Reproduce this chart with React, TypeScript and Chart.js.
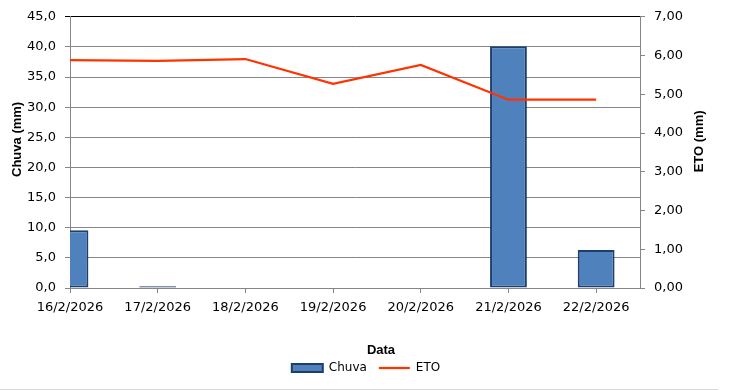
import React, { useEffect, useRef } from "react";
import { Chart, registerables } from "chart.js";

Chart.register(...registerables);

const dates = ["16/2/2026", "17/2/2026", "18/2/2026", "19/2/2026", "20/2/2026", "21/2/2026", "22/2/2026"];
const chuva = [9.6, 0.3, 0, 0, 0, 40.1, 6.3];
const eto = [5.88, 5.86, 5.91, 5.27, 5.76, 4.86, 4.86];
const leftTicks = [0, 5, 10, 15, 20, 25, 30, 35, 40, 45];
const rightTicks = [0, 1, 2, 3, 4, 5, 6, 7];

const GRAY = "#868686";
const TICK_FONT = { family: "'DejaVu Sans', Verdana, sans-serif", size: 13 };
const TITLE_FONT = "bold 13px 'Liberation Sans', Arial, sans-serif";

const titlesPlugin = {
  id: "titlesPlugin",
  afterDraw(chart: any) {
    const { ctx, chartArea, width } = chart;
    const cy = (chartArea.top + chartArea.bottom) / 2 - 13;
    ctx.save();
    ctx.font = TITLE_FONT;
    ctx.fillStyle = "#000";
    ctx.textAlign = "center";
    ctx.textBaseline = "middle";
    ctx.save();
    ctx.translate(17, cy);
    ctx.rotate(-Math.PI / 2);
    ctx.fillText("Chuva (mm)", 0, 0);
    ctx.restore();
    ctx.save();
    ctx.translate(chartArea.right + 59, cy + 2);
    ctx.rotate(-Math.PI / 2);
    ctx.fillText("ETO (mm)", 0, 0);
    ctx.restore();
    ctx.fillText("Data", (chartArea.left + chartArea.right) / 2 + 26, chartArea.bottom + 62);
    ctx.strokeStyle = "#D9D9D9";
    ctx.lineWidth = 1;
    ctx.beginPath();
    ctx.moveTo(0, 389.5);
    ctx.lineTo(width - 14, 389.5);
    ctx.stroke();
    ctx.restore();
  },
};

export default function App() {
  const ref = useRef<HTMLCanvasElement>(null);
  useEffect(() => {
    if (!ref.current) return;
    const chart = new Chart(ref.current, {
      type: "bar",
      data: {
        datasets: [
          {
            type: "bar",
            label: "Chuva",
            data: chuva.map((v, i) => ({ x: i, y: v })),
            backgroundColor: "#4F81BD",
            borderColor: "#1C3F6E",
            borderWidth: 2,
            borderSkipped: false,
            categoryPercentage: 1,
            barPercentage: 0.42,
            yAxisID: "y",
            order: 1,
            pointStyle: "rect",
          } as any,
          {
            type: "line",
            label: "ETO",
            data: eto.map((v, i) => ({ x: i, y: v })),
            borderColor: "#FF3300",
            backgroundColor: "#FF3300",
            borderWidth: 2.25,
            pointRadius: 0,
            tension: 0,
            yAxisID: "y1",
            order: 0,
            pointStyle: "line",
          } as any,
        ],
      },
      options: {
        animation: false,
        responsive: false,
        maintainAspectRatio: false,
        layout: { padding: { top: 16, bottom: 6, left: 0, right: 0 } },
        plugins: {
          legend: {
            position: "bottom",
            labels: {
              usePointStyle: true,
              pointStyleWidth: 31,
              boxHeight: 8,
              padding: 12,
              color: "#000",
              font: { family: "'DejaVu Sans', Verdana, sans-serif", size: 12 },
              sort: (a: any, b: any) => a.datasetIndex - b.datasetIndex,
            },
          },
          tooltip: { enabled: false },
        },
        scales: {
          x: {
            type: "linear",
            min: 0,
            max: 6.5,
            offset: false,
            ticks: {
              stepSize: 1,
              includeBounds: false,
              autoSkip: false,
              maxRotation: 0,
              padding: 7,
              color: "#000",
              font: TICK_FONT,
              callback: (v: any) => (Number.isInteger(v) && dates[v] !== undefined ? dates[v] : ""),
            },
            afterBuildTicks: (s: any) => {
              s.ticks = dates.map((_, i) => ({ value: i }));
            },
            grid: { display: true, offset: false, drawOnChartArea: false, tickLength: 5, color: GRAY },
            border: { display: true, color: GRAY },
            afterFit: (s: any) => {
              s.height = 62;
            },
          },
          y: {
            type: "linear",
            position: "left",
            min: 0,
            max: 45,
            afterBuildTicks: (s: any) => {
              s.ticks = leftTicks.map((v) => ({ value: v }));
            },
            ticks: {
              padding: 9,
              color: "#000",
              font: TICK_FONT,
              callback: (v: any) => Number(v).toFixed(1).replace(".", ","),
            },
            grid: {
              tickLength: 5,
              color: (c: any) => (c.tick && c.tick.value === 45 ? "#000" : GRAY),
            },
            border: { display: true, color: GRAY },
            afterFit: (s: any) => {
              s.width = 70;
            },
          },
          y1: {
            type: "linear",
            position: "right",
            min: 0,
            max: 7,
            afterBuildTicks: (s: any) => {
              s.ticks = rightTicks.map((v) => ({ value: v }));
            },
            ticks: {
              padding: 9,
              color: "#000",
              font: TICK_FONT,
              callback: (v: any) => Number(v).toFixed(2).replace(".", ","),
            },
            grid: { drawOnChartArea: false, tickLength: 5, color: GRAY },
            border: { display: true, color: GRAY },
            afterFit: (s: any) => {
              s.width = 92;
            },
          },
        },
      } as any,
      plugins: [titlesPlugin],
    });
    return () => chart.destroy();
  }, []);
  return (
    <div style={{ position: "absolute", left: 0, top: 0, width: 732, height: 390, background: "#fff" }}>
      <canvas ref={ref} width={732} height={390} style={{ display: "block", width: 732, height: 390 }} />
    </div>
  );
}
